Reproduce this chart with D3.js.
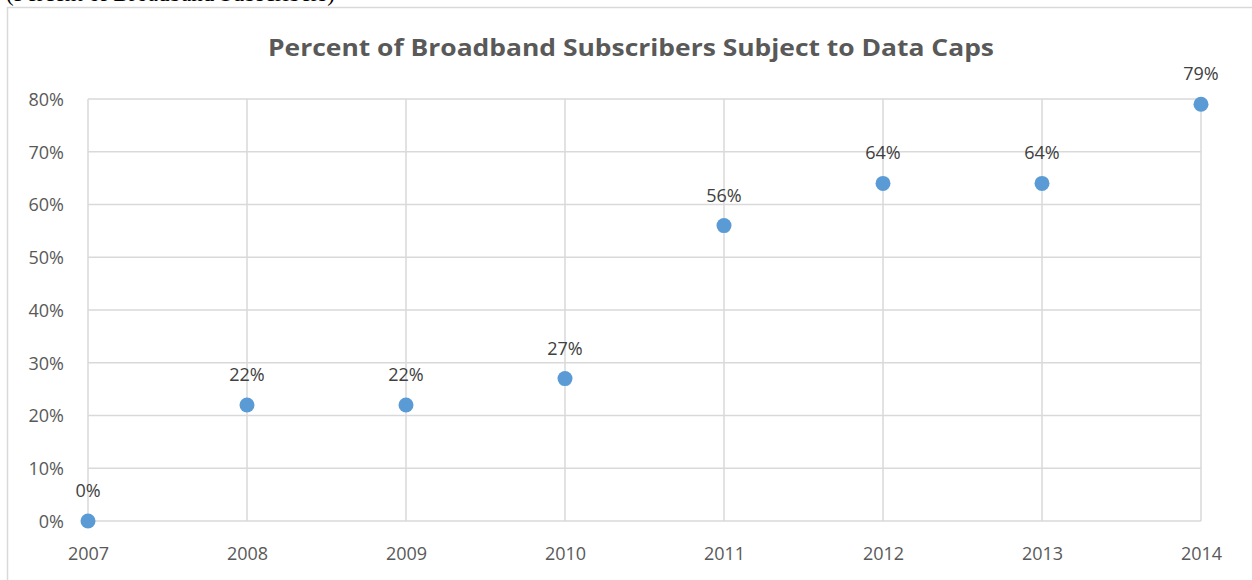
<!DOCTYPE html>
<html>
<head>
<meta charset="utf-8">
<script src="https://cdn.jsdelivr.net/npm/d3@7"></script>
<style>
  body { margin: 0; background: #fff; }
  svg { display: block; }
</style>
</head>
<body>
<div id="chart"></div>
<script>
var years = [2007, 2008, 2009, 2010, 2011, 2012, 2013, 2014];
var percents = [0, 22, 22, 27, 56, 64, 64, 79];
var yTicks = [0, 10, 20, 30, 40, 50, 60, 70, 80];
var chartTitle = "Percent of Broadband Subscribers Subject to Data Caps";
var headerText = "(Percent of Broadband Subscribers)";

function drawChart() {
  var width = 1252, height = 580;
  var svg = d3.select("#chart").append("svg")
    .attr("width", width)
    .attr("height", height);

  // caption above the chart box, mostly cut off by the top edge
  svg.append("text")
    .attr("x", 6)
    .attr("y", 1)
    .attr("font-family", "Liberation Serif, serif")
    .attr("font-size", 23)
    .attr("fill", "#000")
    .text(headerText);

  // chart border
  svg.append("rect")
    .attr("x", 7.5).attr("y", 7.5)
    .attr("width", 1260).attr("height", 600)
    .attr("fill", "#fff")
    .attr("stroke", "#d9d9d9")
    .attr("stroke-width", 1.5);

  var x = d3.scaleLinear()
    .domain([2007, 2014])
    .range([88, 1201]);
  var y = d3.scaleLinear()
    .domain([0, 80])
    .range([521, 99]);

  var grid = svg.append("g");
  grid.selectAll("line.h")
    .data(yTicks)
    .enter().append("line")
    .attr("x1", x(2007)).attr("x2", x(2014))
    .attr("y1", d => y(d)).attr("y2", d => y(d))
    .attr("stroke", "#d9d9d9")
    .attr("stroke-width", 1.5);
  grid.selectAll("line.v")
    .data(years)
    .enter().append("line")
    .attr("x1", d => x(d)).attr("x2", d => x(d))
    .attr("y1", y(0)).attr("y2", y(80))
    .attr("stroke", "#d9d9d9")
    .attr("stroke-width", 1.5);

  var font = "Open Sans, sans-serif";

  var yAxis = svg.append("g")
    .attr("transform", "translate(" + 64 + ",0)")
    .call(d3.axisLeft(y).tickValues(yTicks).tickSize(0).tickPadding(0).tickFormat(d => d + "%"));
  yAxis.select(".domain").remove();
  yAxis.selectAll("text")
    .attr("font-family", font)
    .attr("font-size", 18)
    .attr("fill", "#595959")
    .attr("dy", "0.36em");

  var xAxis = svg.append("g")
    .attr("transform", "translate(0," + 560 + ")")
    .call(d3.axisBottom(x).tickValues(years).tickSize(0).tickPadding(0).tickFormat(d3.format("d")));
  xAxis.select(".domain").remove();
  xAxis.selectAll("text")
    .attr("font-family", font)
    .attr("font-size", 18)
    .attr("fill", "#595959")
    .attr("dy", 0);

  svg.append("text")
    .attr("x", 631)
    .attr("y", 56)
    .attr("text-anchor", "middle")
    .attr("font-family", font)
    .attr("font-weight", "bold")
    .attr("font-size", 24)
    .attr("textLength", 726)
    .attr("lengthAdjust", "spacingAndGlyphs")
    .attr("fill", "#595959")
    .text(chartTitle);

  var points = years.map((yr, i) => ({ year: yr, value: percents[i] }));

  svg.selectAll("circle.pt")
    .data(points)
    .enter().append("circle")
    .attr("cx", d => x(d.year))
    .attr("cy", d => y(d.value))
    .attr("r", 7.5)
    .attr("fill", "#5b9bd5");

  svg.selectAll("text.lbl")
    .data(points)
    .enter().append("text")
    .attr("x", d => x(d.year))
    .attr("y", d => y(d.value) - 24)
    .attr("text-anchor", "middle")
    .attr("font-family", font)
    .attr("font-size", 18)
    .attr("fill", "#404040")
    .text(d => d.value + "%");
}
drawChart();
</script>
</body>
</html>
